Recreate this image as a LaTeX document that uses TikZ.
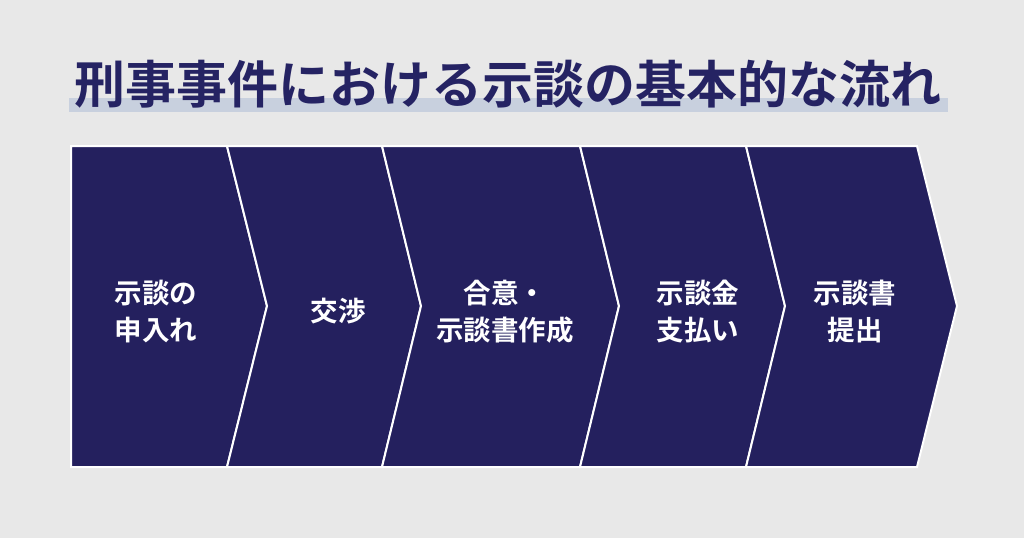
\documentclass[tikz,border=0pt]{standalone}
\usepackage{fontspec}
\newfontfamily\cjk{Noto Sans CJK JP}[BoldFont={Noto Sans CJK JP Bold}]
\definecolor{bg}{RGB}{232,232,232}
\definecolor{navy}{RGB}{36,32,94}
\definecolor{titlec}{RGB}{37,35,99}
\definecolor{barc}{RGB}{200,208,222}
\tikzset{
  piece/.style={fill=navy, draw=white, line width=2pt, line join=miter},
  steptext/.style={text=white, font=\cjk\bfseries\fontsize{27.5}{37}\selectfont, align=center, inner sep=0pt},
  titletext/.style={text=titlec, font=\cjk\bfseries\fontsize{51}{56}\selectfont, inner sep=0pt}
}
\begin{document}
\begin{tikzpicture}[x=1pt,y=-1pt]
\fill[bg] (0,0) rectangle (1024,538);
\useasboundingbox (0,0) rectangle (1024,538);
% title highlight bar
\fill[barc] (69,98) rectangle (948,112);
\node[titletext] (title) at (507.5,84) {刑事事件における示談の基本的な流れ};
% chevrons
\path[piece] (71,146) -- (227,146) -- (267,306) -- (227,467) -- (71,467) -- cycle;
\path[piece] (227,146) -- (382,146) -- (421,306) -- (382,467) -- (227,467) -- (267,306) -- cycle;
\path[piece] (382,146) -- (580,146) -- (619,306) -- (580,467) -- (382,467) -- (421,306) -- cycle;
\path[piece] (580,146) -- (746,146) -- (785,306) -- (746,467) -- (580,467) -- (619,306) -- cycle;
\path[piece] (746,146) -- (917,146) -- (957,306) -- (917,467) -- (746,467) -- (785,306) -- cycle;
% labels
\node[steptext] (s1) at (156,311.5) {示談の\\申入れ};
\node[steptext] (s2) at (338,311.5) {交渉};
\node[steptext] (s3) at (505,311.5) {合意・\\示談書作成};
\node[steptext] (s4) at (698,311.5) {示談金\\支払い};
\node[steptext] (s5) at (855,311.5) {示談書\\提出};
\end{tikzpicture}
\end{document}
